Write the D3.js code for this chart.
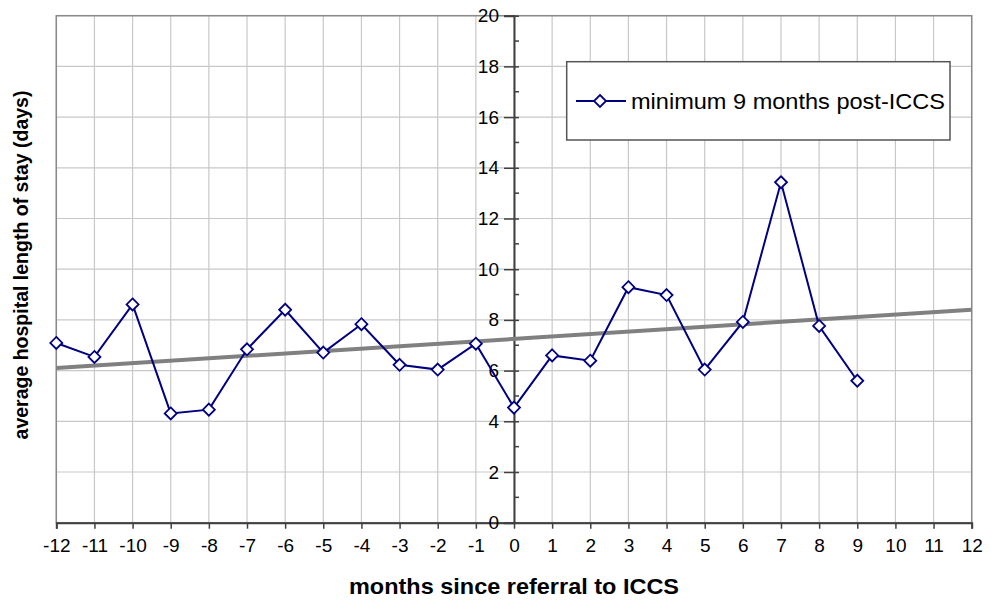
<!DOCTYPE html>
<html><head><meta charset="utf-8">
<script src="https://cdn.jsdelivr.net/npm/d3@7"></script>
<style>body{margin:0;background:#fff;}svg{display:block;font-family:"Liberation Sans",Arial,sans-serif;}</style>
</head><body><svg id="c" width="997" height="601"></svg>
<script>
const months = [-12,-11,-10,-9,-8,-7,-6,-5,-4,-3,-2,-1,0,1,2,3,4,5,6,7,8,9];
const stay = [7.09,6.54,8.61,4.31,4.46,6.84,8.40,6.71,7.83,6.23,6.04,7.06,4.54,6.60,6.39,9.29,8.98,6.04,7.92,13.43,7.76,5.60];
const trendX = [-12,12];
const trendY = [6.10,8.40];
const xTicks = d3.range(-12,13,1);
const yTicks = d3.range(0,21,2);
const yMinor = d3.range(1,20,2);
const seriesName = "minimum 9 months post-ICCS";
const xTitle = "months since referral to ICCS";
const yTitle = "average hospital length of stay (days)";

const svg = d3.select("#c");
const L=56.3,R=971.7,T=15.7,B=522.7;
const x = d3.scaleLinear().domain([-12,12]).range([L,R]);
const y = d3.scaleLinear().domain([0,20]).range([B,T]);

// gridlines
svg.append("g").selectAll("line").data(xTicks).join("line")
  .attr("x1",d=>x(d)).attr("x2",d=>x(d)).attr("y1",T).attr("y2",B)
  .attr("stroke","#c8c8c8").attr("stroke-width",1.2);
svg.append("g").selectAll("line").data(yTicks).join("line")
  .attr("x1",L).attr("x2",R).attr("y1",d=>y(d)).attr("y2",d=>y(d))
  .attr("stroke","#c8c8c8").attr("stroke-width",1.2);
// frame
svg.append("rect").attr("x",L).attr("y",T).attr("width",R-L).attr("height",B-T)
  .attr("fill","none").attr("stroke","#8a8a8a").attr("stroke-width",1.5);

// x axis at y=0
const xAxis = d3.axisBottom(x).tickValues(xTicks).tickSize(6).tickPadding(10).tickFormat(d3.format("d"));
const gx = svg.append("g").attr("transform",`translate(0,${y(0)})`).call(xAxis);
gx.select(".domain").attr("stroke","#404040").attr("stroke-width",2);
gx.selectAll(".tick line").attr("stroke","#404040").attr("stroke-width",1.5);
gx.selectAll(".tick text").attr("font-size",19).attr("fill","#000").attr("font-family","Liberation Sans, Arial, sans-serif")
  .text(d=>d<0?"-"+Math.abs(d):d);

// y axis at x=0
const yAxis = d3.axisLeft(y).tickValues(yTicks).tickSize(10).tickPadding(4).tickFormat(d3.format("d"));
const gy = svg.append("g").attr("transform",`translate(${x(0)},0)`).call(yAxis);
gy.select(".domain").attr("stroke","#404040").attr("stroke-width",2);
gy.selectAll(".tick line").attr("stroke","#404040").attr("stroke-width",1.5).attr("x2",-10).attr("x1",5);
gy.selectAll(".tick text").attr("font-size",19).attr("fill","#000").attr("font-family","Liberation Sans, Arial, sans-serif")
  .attr("x",-15);
gy.append("g").selectAll("line").data(yMinor).join("line")
  .attr("x1",0).attr("x2",5).attr("y1",d=>y(d)).attr("y2",d=>y(d))
  .attr("stroke","#404040").attr("stroke-width",1.5);

// trend line
svg.append("line").attr("x1",x(trendX[0])).attr("y1",y(trendY[0])).attr("x2",x(trendX[1])).attr("y2",y(trendY[1]))
  .attr("stroke","#808080").attr("stroke-width",4);

// series
const data = months.map((m,i)=>({m,v:stay[i]}));
svg.append("path").datum(data)
  .attr("d",d3.line().x(d=>x(d.m)).y(d=>y(d.v)))
  .attr("fill","none").attr("stroke","#000080").attr("stroke-width",2);
const diamond = s=>`M0,${-s}L${s},0L0,${s}L${-s},0Z`;
svg.append("g").selectAll("path").data(data).join("path")
  .attr("transform",d=>`translate(${x(d.m)},${y(d.v)})`)
  .attr("d",diamond(6))
  .attr("fill","#fff").attr("stroke","#000080").attr("stroke-width",1.8);

// legend
const lg = svg.append("g");
lg.append("rect").attr("x",566.7).attr("y",61.7).attr("width",383.3).attr("height",78.3)
  .attr("fill","#fff").attr("stroke","#555").attr("stroke-width",1.5);
lg.append("line").attr("x1",576).attr("x2",626).attr("y1",101).attr("y2",101)
  .attr("stroke","#000080").attr("stroke-width",2);
lg.append("path").attr("transform","translate(600,101)").attr("d",diamond(6))
  .attr("fill","#fff").attr("stroke","#000080").attr("stroke-width",1.8);
lg.append("text").attr("x",631).attr("y",101).attr("dy","0.35em").attr("font-size",21.5)
  .attr("textLength",314).attr("lengthAdjust","spacingAndGlyphs").text(seriesName);

// titles
svg.append("text").attr("x",x(0)).attr("y",594).attr("text-anchor","middle")
  .attr("font-size",22).attr("font-weight","bold")
  .attr("textLength",330).attr("lengthAdjust","spacingAndGlyphs").text(xTitle);
svg.append("text").attr("transform",`translate(28,265) rotate(-90)`).attr("text-anchor","middle")
  .attr("font-size",19.5).attr("font-weight","bold").text(yTitle);
</script></body></html>
